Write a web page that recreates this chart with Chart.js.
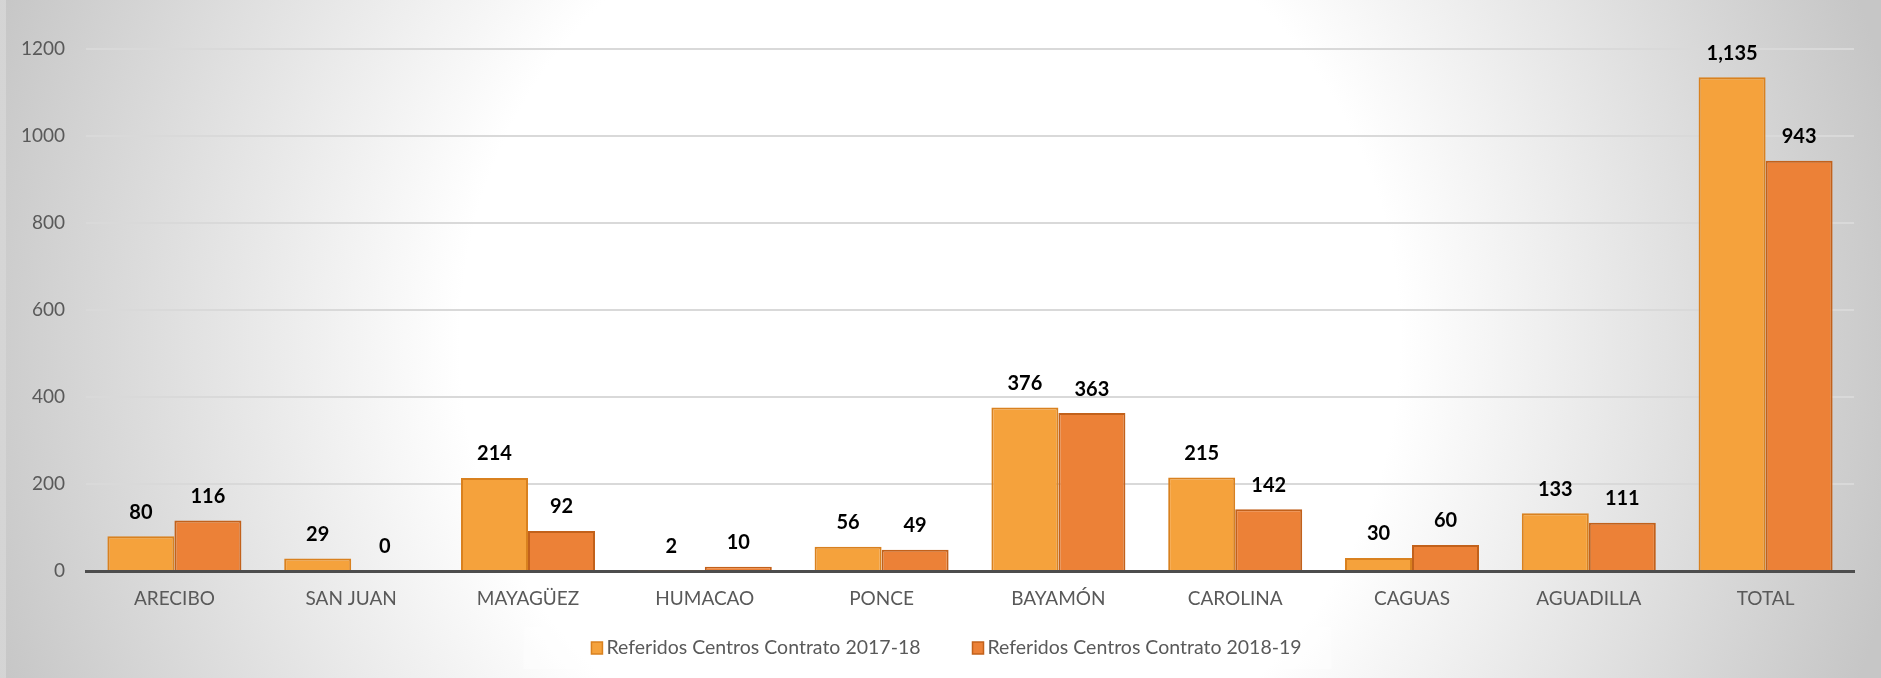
<!DOCTYPE html>
<html>
<head>
<meta charset="utf-8">
<script src="https://cdn.jsdelivr.net/npm/chart.js@4.4.1/dist/chart.umd.min.js"></script>
<style>
    html, body { margin: 0; padding: 0; }
    body {
        width: 1881px;
        height: 678px;
        overflow: hidden;
        background:
            linear-gradient(to right, rgba(214,214,214,0.9) 0, rgba(214,214,214,0.9) 6px, transparent 6px),
            radial-gradient(circle at 930px 340px, #ffffff 0, #ffffff 470px, #c6c6c6 990px);
    }
    #contenedor { position: relative; width: 1881px; height: 678px; }
</style>
</head>
<body>
<div id="contenedor">
    <canvas id="grafico-referidos" width="1881" height="678"></canvas>
</div>
<script>
// Datos del gráfico
const regiones = ["ARECIBO", "SAN JUAN", "MAYAGÜEZ", "HUMACAO", "PONCE", "BAYAMÓN", "CAROLINA", "CAGUAS", "AGUADILLA", "TOTAL"];
const referidos2017 = [80, 29, 214, 2, 56, 376, 215, 30, 133, 1135];
const referidos2018 = [116, 0, 92, 10, 49, 363, 142, 60, 111, 943];
const etiquetas = ["Referidos Centros Contrato 2017-18", "Referidos Centros Contrato 2018-19"];
const ticksY = [0, 200, 400, 600, 800, 1000, 1200];

const fuente = "Lato, 'Open Sans', sans-serif";

// Etiquetas de valor encima de cada barra
const etiquetasValor = {
    id: "etiquetasValor",
    afterDatasetsDraw(chart) {
        const ctx = chart.ctx;
        ctx.save();
        ctx.font = "bold 20px " + fuente;
        ctx.fillStyle = "#000000";
        ctx.textAlign = "center";
        ctx.textBaseline = "middle";
        chart.data.datasets.forEach((ds, i) => {
            const meta = chart.getDatasetMeta(i);
            meta.data.forEach((barra, j) => {
                const texto = ds.data[j].toLocaleString("en-US");
                ctx.fillText(texto, barra.x, barra.y - 24);
            });
        });
        ctx.restore();
    }
};

// Leyenda propia (caja pegada al texto, como en Excel)
const leyenda = {
    id: "leyenda",
    afterDraw(chart) {
        const ctx = chart.ctx;
        const cy = 648;
        const sepCaja = 4;
        const hueco = 52;
        const caja = 11;
        ctx.save();
        ctx.font = "19.5px " + fuente;
        ctx.textBaseline = "middle";
        ctx.textAlign = "left";
        const anchos = chart.data.datasets.map(ds => caja + sepCaja + ctx.measureText(ds.label).width);
        const total = anchos.reduce((a, b) => a + b, 0) + hueco * (anchos.length - 1);
        let x = chart.width / 2 + 6 - total / 2;

        // fondo claro detrás de la leyenda
        ctx.fillStyle = "rgba(255,255,255,0.35)";
        ctx.fillRect(x - 68, cy - 21, total + 98, 42);

        chart.data.datasets.forEach((ds, i) => {
            ctx.fillStyle = ds.backgroundColor;
            ctx.strokeStyle = ds.borderColor;
            ctx.lineWidth = 1.5;
            ctx.fillRect(x, cy - 6, caja, 12);
            ctx.strokeRect(x, cy - 6, caja, 12);
            ctx.fillStyle = "#595959";
            ctx.fillText(ds.label, x + caja + sepCaja, cy);
            x += anchos[i] + hueco;
        });
        ctx.restore();
    }
};

const ctx = document.getElementById("grafico-referidos").getContext("2d");

new Chart(ctx, {
    type: "bar",
    data: {
        labels: regiones,
        datasets: [{
            label: etiquetas[0],
            data: referidos2017,
            backgroundColor: "#F5A23C",
            borderColor: "#D9811F",
            borderWidth: 2
        }, {
            label: etiquetas[1],
            data: referidos2018,
            backgroundColor: "#EC8137",
            borderColor: "#C2611B",
            borderWidth: 2
        }]
    },
    options: {
        responsive: false,
        animation: false,
        layout: { padding: { top: 49, right: 27, left: 0, bottom: 0 } },
        datasets: {
            bar: { categoryPercentage: 0.758, barPercentage: 1.0 }
        },
        scales: {
            x: {
                grid: { display: false, drawTicks: false },
                border: { display: true, color: "#4d4d4d", width: 3 },
                ticks: { color: "#595959", padding: 16, font: { family: fuente, size: 19 } },
                afterFit: (scale) => { scale.height = 107; }
            },
            y: {
                min: 0,
                max: 1200,
                afterBuildTicks: (scale) => { scale.ticks = ticksY.map(v => ({ value: v })); },
                grid: { color: "#d9d9d9", lineWidth: 2, drawTicks: false },
                border: { display: false },
                ticks: {
                    color: "#595959",
                    padding: 21,
                    font: { family: fuente, size: 19 },
                    callback: (v) => String(v)
                },
                afterFit: (scale) => { scale.width = 86; }
            }
        },
        plugins: {
            legend: { display: false },
            tooltip: { enabled: false }
        }
    },
    plugins: [etiquetasValor, leyenda]
});
</script>
</body>
</html>
